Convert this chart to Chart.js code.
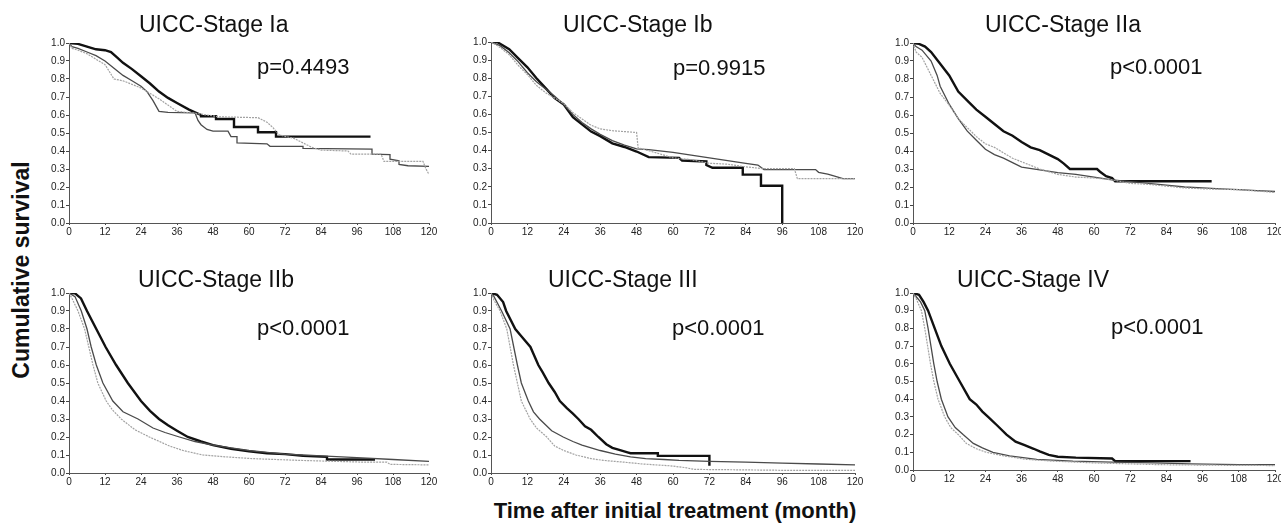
<!DOCTYPE html>
<html>
<head>
<meta charset="utf-8">
<script src="https://cdn.jsdelivr.net/npm/chart.js@4/dist/chart.umd.min.js"></script>
<style>
  body { margin: 0; background: #fff; width: 1281px; height: 524px; overflow: hidden; position: relative; font-family: "Liberation Sans", Arial, sans-serif; color: #111; }
  canvas { position: absolute; }
  .title { position: absolute; font-size: 23px; line-height: 23px; white-space: nowrap; }
  .pval { position: absolute; font-size: 22px; line-height: 22px; white-space: nowrap; }
  #ytitle { position: absolute; left: -129px; top: 258px; width: 300px; text-align: center; font-weight: bold; font-size: 23px; line-height: 24px; transform: rotate(-90deg); transform-origin: 50% 50%; white-space: nowrap; }
  #xtitle { position: absolute; left: 375px; top: 500px; width: 600px; text-align: center; font-weight: bold; font-size: 22px; line-height: 22px; white-space: nowrap; }
</style>
</head>
<body>
<div id="ytitle">Cumulative survival</div>
<div id="xtitle">Time after initial treatment (month)</div>
<script>
// Panel labels
const titles = ["UICC-Stage Ia", "UICC-Stage Ib", "UICC-Stage IIa", "UICC-Stage IIb", "UICC-Stage III", "UICC-Stage IV"];
const pValues = ["p=0.4493", "p=0.9915", "p<0.0001", "p<0.0001", "p<0.0001", "p<0.0001"];
const xTicks = [0, 12, 24, 36, 48, 60, 72, 84, 96, 108, 120];

// Curves: [month, survival]
// thick = dark bold line, mid = medium grey line, light = dotted light grey line
const ia_thick = [[0,1],[3,0.995],[6,0.98],[9,0.965],[12,0.96],[14,0.95],[16,0.92],[18,0.89],[21,0.855],[24,0.815],[27,0.775],[30,0.73],[33,0.695],[36,0.667],[40,0.63],[42,0.615],[44,0.6],[44,0.593],[49,0.593],[49,0.578],[55,0.578],[55,0.533],[63,0.533],[63,0.504],[69,0.504],[69,0.48],[100.5,0.48]];
const ia_mid = [[0,1],[1,0.98],[3,0.97],[6,0.95],[9,0.93],[12,0.9],[15,0.86],[18,0.82],[21,0.79],[24,0.76],[26,0.73],[28,0.68],[30,0.62],[33,0.615],[42,0.612],[43,0.57],[44,0.546],[46,0.52],[48,0.51],[53,0.51],[54,0.48],[56,0.48],[56,0.445],[66,0.44],[67,0.426],[78,0.426],[78,0.415],[101,0.41],[101,0.383],[107,0.38],[107,0.355],[110,0.345],[110,0.325],[113,0.318],[120,0.315]];
const ia_light = [[0,1],[1,0.97],[3,0.96],[6,0.94],[9,0.91],[12,0.88],[15,0.8],[18,0.79],[21,0.77],[24,0.75],[27,0.72],[30,0.69],[33,0.655],[36,0.62],[42,0.61],[46,0.6],[50,0.59],[63,0.585],[66,0.56],[68,0.53],[70,0.49],[75,0.47],[78,0.445],[81,0.42],[84,0.405],[93,0.4],[94,0.383],[104,0.383],[105,0.342],[118,0.342],[119,0.3],[120,0.27]];

const ib_thick = [[0,1],[2,1],[3,0.99],[6,0.96],[9,0.91],[12,0.86],[15,0.8],[18,0.745],[21,0.69],[24,0.655],[27,0.585],[30,0.545],[33,0.505],[36,0.48],[40,0.44],[44,0.42],[48,0.395],[52,0.364],[62,0.36],[63,0.345],[71,0.34],[71,0.32],[73,0.305],[83,0.305],[83,0.267],[89,0.267],[89,0.206],[96,0.206],[96,0]];
const ib_mid = [[0,1],[3,0.98],[6,0.94],[9,0.89],[12,0.83],[15,0.78],[18,0.74],[21,0.7],[24,0.655],[27,0.6],[30,0.555],[33,0.52],[36,0.49],[40,0.455],[44,0.43],[48,0.41],[52,0.405],[60,0.39],[66,0.375],[72,0.36],[78,0.345],[84,0.33],[88,0.32],[90,0.295],[107,0.295],[108,0.28],[111,0.27],[113,0.26],[116,0.245],[120,0.245]];
const ib_light = [[0,1],[3,0.97],[6,0.93],[9,0.87],[12,0.82],[15,0.76],[18,0.72],[21,0.69],[24,0.66],[27,0.61],[30,0.575],[33,0.54],[36,0.52],[40,0.51],[44,0.505],[48,0.5],[48.5,0.415],[54,0.39],[60,0.36],[66,0.35],[72,0.33],[78,0.325],[84,0.31],[90,0.3],[100,0.3],[101,0.245],[120,0.245]];

const iia_thick = [[0,1],[2,0.995],[4,0.98],[6,0.95],[9,0.885],[12,0.82],[15,0.73],[18,0.68],[21,0.63],[24,0.59],[27,0.55],[30,0.51],[33,0.485],[36,0.45],[39,0.42],[42,0.405],[45,0.38],[48,0.355],[50,0.33],[52,0.3],[61,0.3],[62,0.285],[64,0.26],[66,0.25],[67,0.232],[99,0.232]];
const iia_mid = [[0,1],[1,0.98],[3,0.96],[6,0.9],[8,0.82],[9,0.76],[12,0.66],[15,0.58],[18,0.51],[21,0.46],[24,0.41],[27,0.38],[30,0.36],[33,0.335],[36,0.31],[42,0.295],[48,0.28],[54,0.27],[60,0.255],[66,0.24],[72,0.23],[78,0.22],[84,0.21],[90,0.2],[96,0.195],[102,0.19],[108,0.185],[114,0.18],[120,0.175]];
const iia_light = [[0,1],[1,0.95],[3,0.92],[6,0.82],[9,0.72],[12,0.655],[15,0.58],[18,0.53],[21,0.48],[24,0.44],[27,0.42],[30,0.39],[33,0.36],[36,0.34],[42,0.3],[48,0.27],[54,0.255],[60,0.25],[66,0.24],[72,0.22],[78,0.215],[84,0.205],[90,0.195],[96,0.19],[108,0.185],[120,0.17]];

const iib_thick = [[0,1],[2,0.998],[4,0.97],[6,0.9],[9.1,0.8],[12.2,0.7],[15.7,0.6],[19.6,0.5],[24,0.4],[27,0.345],[30,0.3],[33,0.265],[36,0.235],[39.6,0.2],[44,0.175],[48,0.155],[54,0.135],[60,0.12],[66,0.11],[72,0.105],[78,0.095],[86,0.09],[86,0.075],[102,0.075]];
const iib_mid = [[0,1],[2,0.98],[4.1,0.9],[6,0.8],[7.4,0.7],[9.1,0.6],[11.3,0.5],[14.6,0.4],[18,0.34],[23,0.3],[28,0.25],[32,0.225],[36.8,0.2],[42,0.175],[48,0.155],[54,0.14],[60,0.125],[66,0.115],[72,0.105],[78,0.1],[84,0.095],[96,0.085],[108,0.075],[120,0.065]];
const iib_light = [[0,1],[1,0.97],[3,0.9],[5.2,0.8],[8,0.6],[9.6,0.5],[12.4,0.4],[14.5,0.35],[17.4,0.3],[22,0.24],[26.8,0.2],[33.5,0.15],[38,0.125],[44.6,0.1],[52,0.09],[61,0.08],[77,0.07],[99,0.06],[106,0.06],[107,0.048],[120,0.045]];

const iii_thick = [[0,1],[2,0.99],[4,0.95],[5,0.9],[8,0.8],[10,0.76],[13,0.7],[15.6,0.6],[17,0.56],[19,0.5],[21,0.45],[22.7,0.4],[25,0.36],[27,0.33],[28.8,0.3],[31,0.26],[33,0.24],[35.4,0.2],[38,0.16],[40,0.14],[42,0.13],[45,0.115],[46,0.11],[55,0.11],[55,0.095],[72,0.095],[72,0.04]];
const iii_mid = [[0,1],[1,0.98],[3.5,0.9],[6.3,0.8],[8.7,0.6],[10,0.5],[12.3,0.4],[14,0.34],[16,0.3],[20,0.235],[23.8,0.2],[27,0.175],[30,0.155],[36,0.125],[41,0.105],[46,0.09],[51,0.08],[57,0.075],[62,0.07],[72,0.065],[84,0.06],[96,0.055],[108,0.05],[120,0.045]];
const iii_light = [[0,1],[1,0.96],[3,0.9],[5.2,0.8],[7.4,0.6],[10,0.4],[12.9,0.3],[15,0.25],[18.4,0.2],[21,0.15],[24,0.125],[28,0.1],[33,0.08],[37,0.07],[44,0.06],[50,0.05],[59,0.04],[64,0.03],[67,0.02],[80,0.018],[96,0.015],[120,0.015]];

const iv_thick = [[0,1],[2,0.99],[3.5,0.95],[5,0.9],[7.2,0.8],[9.4,0.7],[12.2,0.6],[15.5,0.5],[18.8,0.4],[21,0.37],[23,0.33],[24.9,0.3],[28,0.25],[31,0.2],[34,0.16],[37,0.14],[40,0.12],[42,0.105],[45,0.085],[48,0.075],[54,0.07],[66,0.065],[67,0.05],[92,0.05]];
const iv_mid = [[0,1],[1,0.98],[2.5,0.95],[3.9,0.9],[5,0.8],[6.9,0.6],[8,0.5],[9.4,0.4],[11.6,0.3],[14,0.24],[16.6,0.2],[20,0.15],[23,0.125],[26.5,0.1],[32,0.08],[41,0.06],[53,0.05],[66,0.045],[80,0.04],[92,0.035],[108,0.03],[120,0.03]];
const iv_light = [[0,1],[1,0.97],[2.8,0.9],[3.9,0.8],[5.8,0.6],[6.9,0.5],[8.3,0.4],[10.5,0.3],[12.5,0.24],[15,0.2],[17.7,0.15],[21,0.12],[24.3,0.1],[30,0.08],[37.6,0.06],[46.5,0.05],[60,0.04],[82,0.03],[100,0.027],[120,0.025]];

const curves = [
  [ia_thick, ia_mid, ia_light],
  [ib_thick, ib_mid, ib_light],
  [iia_thick, iia_mid, iia_light],
  [iib_thick, iib_mid, iib_light],
  [iii_thick, iii_mid, iii_light],
  [iv_thick, iv_mid, iv_light]
];

// Layout (pixels): plot area boxes [left, top, right, bottom], text anchors
const plotBoxes = [[69,43,429,223],[491,42,855,223],[913,43,1275,223],[69,293,429,473],[491,293,855,473],[913,293,1275,470]];
const titlePos = [[139,13],[563,13],[985,13],[138,268],[548,268],[957,268]];
const pPos = [[257,56],[673,57],[1110,56],[257,317],[672,317],[1111,316]];

const AXIS_W = 40, AXIS_H = 22, PAD_TOP = 10, PAD_RIGHT = 12;

function toPoints(arr) {
  return arr.map(([x, y]) => ({ x, y }));
}

function renderPanel(i) {
  const [L, T, R, B] = plotBoxes[i];
  const canvas = document.createElement('canvas');
  canvas.width = R - L + AXIS_W + PAD_RIGHT;
  canvas.height = B - T + PAD_TOP + AXIS_H;
  canvas.style.left = (L - AXIS_W) + 'px';
  canvas.style.top = (T - PAD_TOP) + 'px';
  document.body.appendChild(canvas);

  const [thick, mid, light] = curves[i];
  new Chart(canvas, {
    type: 'line',
    data: {
      datasets: [
        { data: toPoints(light), borderColor: '#a3a3a3', borderWidth: 1.2, borderDash: [2, 1] },
        { data: toPoints(mid), borderColor: '#4a4a4a', borderWidth: 1.3 },
        { data: toPoints(thick), borderColor: '#111', borderWidth: 2.4 }
      ]
    },
    options: {
      responsive: false,
      animation: false,
      parsing: false,
      layout: { padding: { top: PAD_TOP, right: PAD_RIGHT, left: 0, bottom: 0 } },
      elements: { point: { radius: 0 }, line: { tension: 0, borderCapStyle: 'butt' } },
      plugins: { legend: { display: false }, tooltip: { enabled: false } },
      scales: {
        x: {
          type: 'linear', min: 0, max: 120,
          afterFit: s => { s.height = AXIS_H; },
          afterBuildTicks: s => { s.ticks = xTicks.map(v => ({ value: v })); },
          border: { display: true, color: '#555', width: 1, dash: [1, 1] },
          grid: { drawOnChartArea: false, drawTicks: true, tickLength: 2, color: '#444' },
          ticks: { padding: 1, maxRotation: 0, color: '#222', font: { family: "'Liberation Sans Narrow', 'Liberation Sans', Arial", size: 10 } }
        },
        y: {
          min: 0, max: 1,
          afterFit: s => { s.width = AXIS_W; },
          border: { display: true, color: '#555', width: 1, dash: [1, 1] },
          grid: { drawOnChartArea: false, drawTicks: true, tickLength: 3, color: '#444' },
          ticks: { stepSize: 0.1, padding: 1, color: '#222', callback: v => v.toFixed(1), font: { family: "'Liberation Sans Narrow', 'Liberation Sans', Arial", size: 10 } }
        }
      }
    }
  });

  const t = document.createElement('div');
  t.className = 'title';
  t.textContent = titles[i];
  t.style.left = titlePos[i][0] + 'px';
  t.style.top = titlePos[i][1] + 'px';
  document.body.appendChild(t);

  const p = document.createElement('div');
  p.className = 'pval';
  p.textContent = pValues[i];
  p.style.left = pPos[i][0] + 'px';
  p.style.top = pPos[i][1] + 'px';
  document.body.appendChild(p);
}

for (let i = 0; i < titles.length; i++) renderPanel(i);
</script>
</body>
</html>
